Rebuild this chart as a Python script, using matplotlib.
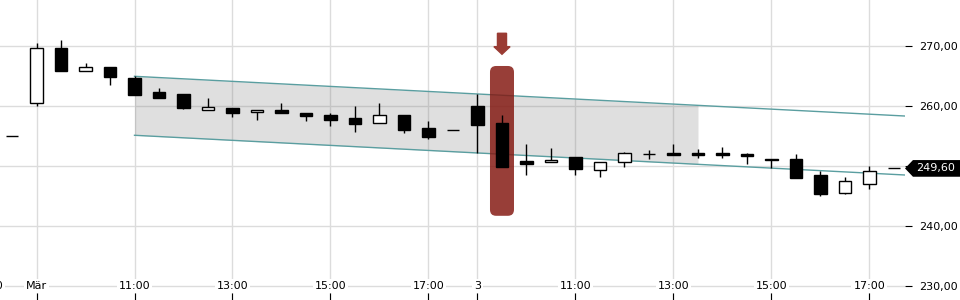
import numpy as np
import matplotlib.pyplot as plt
from matplotlib.patches import FancyBboxPatch, FancyArrow, Polygon

# 30-minute candles, index 0 = last candle of the previous day
opens = [255.0, 260.45, 269.6, 265.8, 266.45, 264.67, 262.33, 262.0, 259.38, 259.67,
         258.95, 259.33, 258.83, 258.5, 258.0, 257.12, 258.5, 256.33, 255.95, 260.0,
         257.17, 250.83, 250.62, 251.5, 249.28, 250.62, 251.95, 252.12, 252.12, 252.12,
         251.95, 251.12, 251.17, 248.5, 245.55, 246.95, 249.6]
closes = [255.0, 269.6, 265.9, 266.45, 264.9, 261.9, 261.4, 259.72, 259.83, 258.9,
          259.28, 258.9, 258.38, 257.72, 257.05, 258.5, 256.05, 254.88, 255.95, 256.88,
          249.88, 250.38, 251.0, 249.55, 250.62, 252.12, 251.95, 251.88, 251.88, 251.88,
          251.72, 250.95, 248.05, 245.28, 247.45, 249.12, 249.6]
highs = [255.0, 270.5, 271.0, 267.2, 266.45, 264.95, 263.0, 262.0, 261.33, 259.67,
         259.28, 260.5, 258.83, 258.83, 260.0, 260.5, 258.5, 257.5, 255.95, 262.0,
         258.5, 253.67, 253.0, 251.5, 250.62, 252.33, 252.62, 253.67, 252.78, 253.12,
         252.12, 251.12, 252.0, 249.12, 248.12, 250.0, 249.6]
lows = [255.0, 260.05, 265.9, 265.8, 263.55, 261.9, 261.4, 259.55, 259.38, 258.22,
        257.72, 258.9, 257.5, 256.72, 255.67, 257.12, 255.55, 254.55, 255.95, 252.22,
        249.88, 248.55, 250.62, 248.55, 248.22, 249.88, 251.22, 251.88, 251.28, 251.28,
        250.38, 249.72, 248.05, 245.05, 245.28, 246.22, 249.6]

tick_pos = [-1, 1, 5, 9, 13, 17, 19, 23, 27, 31, 35]
tick_labels = ["17:00", "Mär", "11:00", "13:00", "15:00", "17:00", "3",
               "11:00", "13:00", "15:00", "17:00"]
y_ticks = [230, 240, 250, 260, 270]

# trend channel (start/end index, upper and lower values), shaded up to fill_end
channel_x = [5, 36.45]
channel_top = [264.95, 258.33]
channel_bot = [255.12, 248.5]
fill_end = 28

# highlighted candle
hl_idx = 20
hl_low, hl_high = 241.7, 266.67
arrow_top, arrow_tip = 272.12, 268.62

last_price = closes[-1]

x = np.arange(len(opens))
o = np.array(opens); c = np.array(closes)

fig = plt.figure(figsize=(9.6, 3), dpi=100)
ax = fig.add_axes([0, 0, 905 / 960, 1])

for s in ax.spines.values():
    s.set_visible(False)
ax.grid(True, color="#dcdcdc", linewidth=1)
ax.set_axisbelow(True)

# channel
ct = np.array(channel_top); cb = np.array(channel_bot); cx = np.array(channel_x)
xf = np.array([channel_x[0], fill_end])
ax.fill_between(xf, np.interp(xf, cx, ct), np.interp(xf, cx, cb),
                color="#808080", alpha=0.25, linewidth=0, zorder=1)
ax.plot(cx, ct, color="#5a9ea0", lw=1, zorder=1.5)
ax.plot(cx, cb, color="#5a9ea0", lw=1, zorder=1.5)

# highlight box + arrow
w = 0.98
box = FancyBboxPatch((hl_idx - w / 2, hl_low), w, hl_high - hl_low,
                     boxstyle="round,pad=0,rounding_size=0.25", mutation_aspect=4.1,
                     facecolor="#831710", edgecolor="none", alpha=0.83, zorder=2)
ax.add_patch(box)
ax.add_patch(FancyArrow(hl_idx, arrow_top, 0, arrow_tip - arrow_top, width=0.37,
                        head_width=0.66, head_length=1.27, length_includes_head=True,
                        color="#9a3b33", zorder=2))

# candles
ax.vlines(x, lows, highs, color="black", lw=1, zorder=3)
up = c >= o
ax.bar(x, np.abs(c - o), bottom=np.minimum(o, c), width=0.5,
       color=np.where(up, "white", "black"), edgecolor="black", linewidth=1, zorder=4)

# x labels sit on the bottom grid line
ax.set_xticks(tick_pos)
ax.set_xticklabels([])
ax.tick_params(axis="x", direction="in", length=5, color="black", width=0.8)
for p, lab in zip(tick_pos, tick_labels):
    ax.text(p, y_ticks[0], lab, ha="center", va="center", fontsize=8, color="black",
            bbox=dict(facecolor="white", edgecolor="none", pad=1.5), zorder=5, clip_on=False)

ax.yaxis.tick_right()
ax.set_yticks(y_ticks)
# the 250 label sits under the last-price tag
ax.set_yticklabels(["" if v == 250 else f"{v:.2f}".replace(".", ",") for v in y_ticks],
                   fontsize=8)
ax.tick_params(axis="y", direction="out", length=5, pad=5, color="black", width=0.8)

ax.set_xlim(-0.49, 36.45)
ax.set_ylim(227.667, 277.667)

# last price tag
tr = ax.get_yaxis_transform()
h = 1.39
tag = Polygon([(1.0, last_price), (1.0088, last_price + h), (1.0608, last_price + h),
               (1.0608, last_price - h), (1.0088, last_price - h)],
              closed=True, transform=tr, facecolor="black", edgecolor="none",
              clip_on=False, zorder=6)
ax.add_patch(tag)
ax.text(1.0128, last_price, f"{last_price:.2f}".replace(".", ","), transform=tr,
        color="white", fontsize=8, va="center", ha="left", zorder=7, clip_on=False)

fig.savefig("out.png", dpi=100)
